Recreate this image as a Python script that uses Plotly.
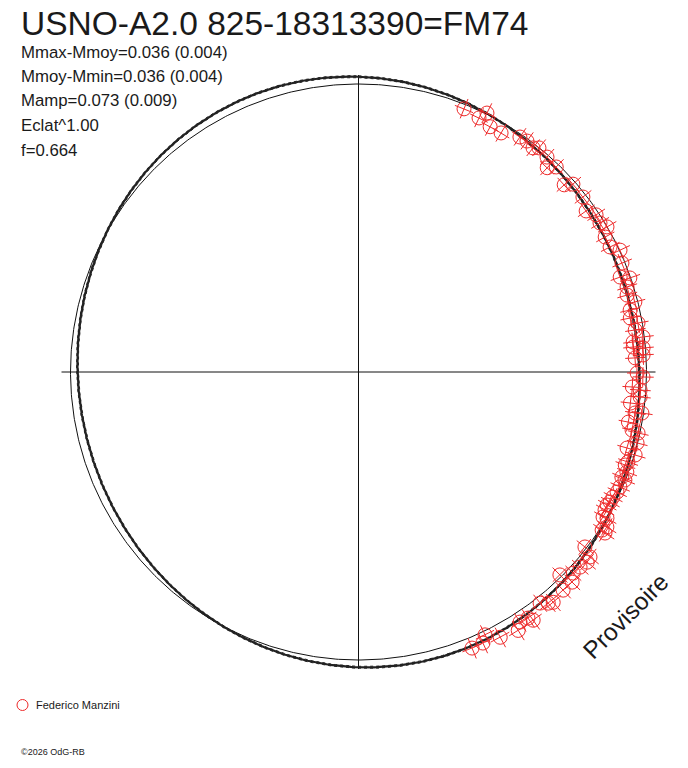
import numpy as np
import plotly.graph_objects as go

# ---------------- data ----------------
TITLE = "USNO-A2.0 825-18313390=FM74"
INFO_LINES = [
    "Mmax-Mmoy=0.036 (0.004)",
    "Mmoy-Mmin=0.036 (0.004)",
    "Mamp=0.073 (0.009)",
    "Eclat^1.00",
    "f=0.664",
]
OBSERVER = "Federico Manzini"
STAMP = "\u00a92026 OdG-RB"
WATERMARK = "Provisoire"

# rotational phase (0..1, clockwise from top) and relative magnitude of each measurement
PHASE = [
    0.0607, 0.0705, 0.0733, 0.0784, 0.0856, 0.0958, 0.1003, 0.1053, 0.1079, 0.1146,
    0.1187, 0.1221, 0.1325, 0.1355, 0.1446, 0.1520, 0.1570, 0.1620, 0.1659, 0.1703,
    0.1766, 0.1806, 0.1876, 0.1946, 0.1969, 0.2012, 0.2056, 0.2105, 0.2143, 0.2188,
    0.2224, 0.2260, 0.2305, 0.2327, 0.2356, 0.2366, 0.2419, 0.2405, 0.2506, 0.2528,
    0.2587, 0.2602, 0.2641, 0.2681, 0.2734, 0.2729, 0.2792, 0.2833, 0.2842, 0.2897,
    0.2939, 0.2964, 0.3013, 0.3034, 0.3068, 0.3104, 0.3113, 0.3159, 0.3192, 0.3227,
    0.3259, 0.3282, 0.3312, 0.3352, 0.3346, 0.3388, 0.3416, 0.3421, 0.3547, 0.3573,
    0.3604, 0.3649, 0.3698, 0.3737, 0.3756, 0.3801, 0.3883, 0.3906, 0.3940, 0.4040,
    0.4024, 0.4087, 0.4119, 0.4219, 0.4286, 0.4315, 0.4379,
]
MAG = [
    0.017, 0.026, -0.004, 0.037, 0.037, 0.011, 0.008, 0.015, 0.001, 0.008,
    0.038, 0.012, 0.038, 0.011, 0.013, 0.035, 0.012, 0.016, 0.001, 0.026,
    0.027, -0.002, 0.011, 0.037, 0.003, 0.024, 0.033, 0.011, 0.036, 0.042,
    0.016, 0.031, 0.005, 0.045, 0.047, 0.009, 0.042, 0.011, 0.036, 0.013,
    0.053, 0.022, 0.020, 0.055, 0.032, 0.006, 0.052, 0.032, 0.007, 0.002,
    0.034, -0.003, 0.015, 0.021, 0.006, 0.017, 0.002, 0.009, 0.011, 0.017,
    0.018, 0.023, 0.021, 0.014, -0.001, -0.018, -0.009, -0.024, 0.007, -0.031,
    -0.035, -0.027, -0.023, -0.043, 0.008, -0.041, -0.050, -0.041, -0.022, -0.040,
    -0.057, -0.036, -0.058, -0.047, -0.014, -0.038, -0.039,
]
MAG_ERR = 0.040      # magnitude error bar half-length
PHASE_ERR = 0.0055   # phase error bar half-length

# Fourier fit of the lightcurve (2nd harmonic)
FIT_AMP = 0.032
FIT_PHASE_MAX = -0.045
FIT_BAND = 0.0035

# ---------------- geometry helpers ----------------
R0 = 288.0  # radius of the mean-brightness circle (plot units)
W, H = 688, 768
CX, CY = 358.5, 372.0


def to_xy(phase, mag):
    th = 2 * np.pi * np.asarray(phase, dtype=float)
    r = R0 * 10 ** (-0.4 * np.asarray(mag, dtype=float))
    return r * np.sin(th), r * np.cos(th)


def px(x):
    return x / W


def py(y):
    return 1 - y / H


fig = go.Figure()

# crosshair
L = 297.0
fig.add_trace(go.Scatter(x=[-L, L, None, 0, 0], y=[0, 0, None, -L, L], mode="lines",
                         line=dict(color="#111111", width=1), hoverinfo="skip"))

# mean circle
grid = np.linspace(0, 1, 721)
cx, cy = to_xy(grid, np.zeros_like(grid))
fig.add_trace(go.Scatter(x=cx, y=cy, mode="lines", line=dict(color="#111111", width=1),
                         hoverinfo="skip"))

# fitted curve (with a narrow uncertainty band)
fit_mag = -FIT_AMP * np.cos(4 * np.pi * (grid - FIT_PHASE_MAX))
for off, wdt, dash in [(-FIT_BAND, 1, "dot"), (FIT_BAND, 1, "dot"), (0, 2.2, "solid")]:
    fx, fy = to_xy(grid, fit_mag + off)
    fig.add_trace(go.Scatter(x=fx, y=fy, mode="lines",
                             line=dict(color="#222222", width=wdt, dash=dash), hoverinfo="skip"))

# error bars (radial = magnitude, tangential = phase)
RED = "#ee2a2a"
ex, ey = [], []
for p, m in zip(PHASE, MAG):
    x1, y1 = to_xy([p, p], [m - MAG_ERR, m + MAG_ERR])
    ex += [x1[0], x1[1], None]
    ey += [y1[0], y1[1], None]
    x2, y2 = to_xy([p - PHASE_ERR, p + PHASE_ERR], [m, m])
    ex += [x2[0], x2[1], None]
    ey += [y2[0], y2[1], None]
fig.add_trace(go.Scatter(x=ex, y=ey, mode="lines", line=dict(color=RED, width=1),
                         hoverinfo="skip"))

# measurements
mx, my = to_xy(PHASE, MAG)
fig.add_trace(go.Scatter(x=mx, y=my, mode="markers",
                         marker=dict(symbol="circle-open", size=14, color=RED,
                                     line=dict(width=1, color=RED)),
                         name=OBSERVER))

FONT = "Liberation Sans, Arial, sans-serif"
ann = []
ann.append(dict(x=px(19), y=py(23.5), xref="paper", yref="paper", text=TITLE, showarrow=False,
                xanchor="left", yanchor="middle", font=dict(family=FONT, size=33.5, color="#1a1a1a")))
for i, t in enumerate(INFO_LINES):
    ann.append(dict(x=px(19), y=py(52 + 24.5 * i), xref="paper", yref="paper", text=t,
                    showarrow=False, xanchor="left", yanchor="middle",
                    font=dict(family=FONT, size=16.8, color="#1a1a1a")))
ann.append(dict(x=px(34), y=py(705), xref="paper", yref="paper", text=OBSERVER, showarrow=False,
                xanchor="left", yanchor="middle", font=dict(family=FONT, size=11, color="#1a1a1a")))
ann.append(dict(x=px(19), y=py(752), xref="paper", yref="paper", text=STAMP, showarrow=False,
                xanchor="left", yanchor="middle", font=dict(family=FONT, size=9, color="#1a1a1a")))
ann.append(dict(x=px(625), y=py(616), xref="paper", yref="paper", text=WATERMARK, showarrow=False,
                xanchor="center", yanchor="middle", textangle=-45,
                font=dict(family=FONT, size=24.5, color="#1a1a1a")))

shapes = [dict(type="circle", xref="paper", yref="paper", x0=px(17), x1=px(28),
               y0=py(710.5), y1=py(699.5), line=dict(color=RED, width=1))]

fig.update_layout(
    width=W, height=H, margin=dict(l=0, r=0, t=0, b=0),
    paper_bgcolor="white", plot_bgcolor="white", showlegend=False,
    xaxis=dict(range=[-CX, W - CX], visible=False, fixedrange=True),
    yaxis=dict(range=[CY - H, CY], visible=False, fixedrange=True),
    annotations=ann, shapes=shapes,
)

fig.write_html("out.html", config={"displayModeBar": False, "staticPlot": True},
               post_script="document.body.style.margin='0px';document.body.style.overflow='hidden';")
